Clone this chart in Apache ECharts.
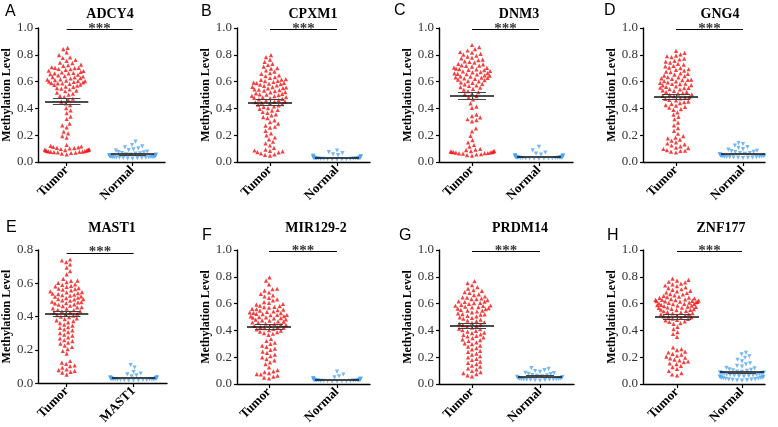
<!DOCTYPE html>
<html><head><meta charset="utf-8">
<script src="https://cdn.jsdelivr.net/npm/echarts@6/dist/echarts.min.js"></script>
<style>html,body{margin:0;padding:0;background:#fff}#c{width:778px;height:427px}</style>
</head><body><div id="c"></div>
<script>
// ---------- DATA ----------
const titles = ['ADCY4','CPXM1','DNM3','GNG4','MAST1','MIR129-2','PRDM14','ZNF177'];
const letters = ['A','B','C','D','E','F','G','H'];
const groupLabels = [['Tumor','Normal'],['Tumor','Normal'],['Tumor','Normal'],['Tumor','Normal'],['Tumor','MAST1'],['Tumor','Normal'],['Tumor','Normal'],['Tumor','Normal']];
const yMaxes = [1.0,1.0,1.0,1.0,0.8,1.0,1.0,1.0];
const sigText = '***';

const adcy4Tumor = [0.852,0.843,0.818,0.797,0.781,0.776,0.762,0.755,0.741,0.738,0.726,0.722,0.718,0.707,0.703,0.702,0.701,0.694,0.692,0.688,0.681,0.679,0.672,0.668,0.664,0.662,0.661,0.655,0.652,0.647,0.641,0.638,0.634,0.631,0.626,0.623,0.617,0.614,0.611,0.608,0.604,0.603,0.599,0.597,0.594,0.589,0.587,0.586,0.583,0.578,0.575,0.569,0.563,0.561,0.552,0.548,0.541,0.533,0.528,0.517,0.511,0.502,0.494,0.486,0.473,0.466,
0.451,0.437,0.424,0.402,0.386,0.365,0.338,0.321,0.286,0.273,0.259,0.227,0.214,0.193,0.181,
0.128,0.121,0.117,0.113,0.109,0.106,0.103,0.101,0.097,0.095,0.093,0.091,0.089,0.088,0.086,0.085,0.082,0.081,0.079,0.078,0.076,0.075,0.073,0.072,0.069,0.067,0.063,0.056];
const adcy4Normal = [0.152,0.127,0.116,0.109,0.101,0.094,0.088,0.085,0.078,0.074,0.072,0.067,0.064,0.063,0.058,0.056,0.055,0.052,0.051,0.049,0.048,0.046,0.045,0.043,0.042,0.041,0.040,0.039,0.038,0.037,0.036,0.035,0.034,0.034,0.033,0.032,0.031,0.030,0.029,0.027,0.025];

const cpxm1Tumor = [0.798,0.783,0.764,0.747,0.733,0.724,0.712,0.701,0.697,0.683,0.674,0.663,0.657,0.646,0.641,0.634,0.627,0.618,0.615,0.613,0.606,0.604,0.597,0.593,0.591,0.588,0.584,0.581,0.577,0.571,0.568,0.561,0.559,0.556,0.552,0.549,0.542,0.539,0.536,0.532,0.529,0.522,0.519,0.512,0.509,0.505,0.502,0.499,0.493,0.491,0.484,0.482,0.478,0.477,0.471,0.468,0.462,0.459,0.453,0.451,0.446,0.442,0.437,0.431,0.428,0.422,0.414,0.411,0.402,0.397,0.388,0.383,0.373,0.367,0.356,0.348,0.335,0.327,0.311,0.297,0.286,0.272,0.263,0.256,
0.233,0.214,0.199,0.183,0.169,0.151,0.139,0.123,0.105,0.092,0.086,0.083,0.079,0.074,0.072,0.064,0.057,0.053,0.047];
const cpxm1Normal = [0.086,0.073,0.066,0.057,0.052,0.047,0.044,0.041,0.039,0.037,0.036,0.035,0.034,0.033,0.032,0.031,0.030,0.030,0.029,0.028,0.028,0.027,0.026,0.026,0.025,0.024,0.024,0.023,0.022,0.021,0.020,0.019,0.018];

const dnm3Tumor = [0.873,0.857,0.843,0.832,0.821,0.816,0.807,0.802,0.793,0.787,0.778,0.773,0.764,0.761,0.751,0.747,0.741,0.733,0.729,0.721,0.719,0.717,0.712,0.705,0.702,0.696,0.693,0.691,0.687,0.685,0.679,0.677,0.671,0.669,0.663,0.661,0.658,0.655,0.653,0.647,0.645,0.639,0.637,0.631,0.629,0.627,0.623,0.621,0.614,0.611,0.604,0.601,0.594,0.591,0.583,0.579,0.571,0.567,0.559,0.554,0.545,0.539,0.529,0.522,0.511,0.504,0.491,0.482,0.467,
0.437,0.413,0.404,0.353,0.342,0.333,0.319,0.312,0.303,0.251,0.229,0.195,0.163,0.147,0.127,0.114,
0.098,0.093,0.088,0.083,0.081,0.078,0.077,0.076,0.074,0.073,0.071,0.070,0.067,0.066,0.064,0.062,0.058,0.056,0.052,0.047];
const dnm3Normal = [0.113,0.087,0.071,0.062,0.055,0.052,0.049,0.047,0.045,0.043,0.042,0.041,0.040,0.039,0.038,0.037,0.036,0.036,0.035,0.034,0.034,0.033,0.033,0.032,0.031,0.031,0.030,0.030,0.029,0.028,0.028,0.027,0.026,0.025,0.024];

const gng4Tumor = [0.829,0.814,0.803,0.794,0.789,0.782,0.771,0.765,0.755,0.749,0.742,0.732,0.727,0.718,0.713,0.704,0.701,0.692,0.688,0.682,0.674,0.671,0.662,0.658,0.652,0.644,0.641,0.634,0.631,0.624,0.621,0.614,0.612,0.611,0.604,0.602,0.594,0.591,0.584,0.582,0.581,0.574,0.572,0.564,0.561,0.554,0.553,0.551,0.544,0.542,0.534,0.531,0.524,0.522,0.514,0.511,0.504,0.502,0.494,0.491,0.484,0.481,0.474,0.471,0.463,0.459,0.451,0.447,0.439,0.434,0.425,0.421,0.411,0.405,0.395,0.389,
0.371,0.353,0.337,0.319,0.294,0.273,0.253,0.233,0.211,
0.193,0.182,0.176,0.167,0.159,0.147,0.138,0.132,0.123,0.117,0.108,0.103,0.097,0.089,0.084,0.082,0.078,0.071];
const gng4Normal = [0.141,0.133,0.122,0.111,0.105,0.096,0.092,0.084,0.081,0.075,0.073,0.067,0.066,0.061,0.059,0.055,0.054,0.051,0.050,0.048,0.046,0.045,0.043,0.042,0.040,0.039,0.038,0.037,0.036,0.035,0.034,0.033,0.032,0.030];

const mast1Tumor = [0.743,0.737,0.727,0.713,0.694,0.673,0.654,0.627,0.616,0.615,0.607,0.602,0.594,0.591,0.585,0.582,0.578,0.571,0.567,0.565,0.561,0.557,0.551,0.547,0.545,0.541,0.537,0.535,0.531,0.528,0.525,0.521,0.519,0.513,0.511,0.505,0.505,0.503,0.497,0.495,0.489,0.487,0.485,0.481,0.479,0.473,0.471,0.465,0.463,0.457,0.455,0.449,0.447,0.441,0.439,0.433,0.431,0.425,0.423,0.417,0.415,0.409,0.406,0.399,0.396,0.389,0.385,0.377,0.373,0.365,0.361,0.351,0.346,0.337,0.332,0.323,0.317,0.307,0.301,0.291,0.285,0.275,0.269,0.259,0.253,0.243,0.237,0.225,0.217,0.204,0.193,0.177,
0.133,0.123,0.116,0.107,0.102,0.093,0.082,0.078,0.074,0.068,0.063,0.051];
const mast1Normal = [0.109,0.094,0.067,0.058,0.053,0.046,0.041,0.036,0.034,0.032,0.031,0.030,0.029,0.028,0.027,0.027,0.026,0.025,0.025,0.024,0.024,0.023,0.022,0.022,0.021,0.020,0.020,0.019,0.018,0.018,0.017,0.016];

const mir1292Tumor = [0.796,0.771,0.743,0.711,0.707,0.697,0.683,0.672,0.661,0.653,0.642,0.631,0.623,0.611,0.606,0.597,0.593,0.585,0.581,0.575,0.573,0.569,0.561,0.558,0.555,0.551,0.548,0.541,0.538,0.535,0.531,0.529,0.523,0.521,0.515,0.515,0.513,0.507,0.505,0.499,0.497,0.495,0.491,0.489,0.483,0.481,0.475,0.473,0.467,0.465,0.459,0.457,0.451,0.449,0.443,0.441,0.435,0.433,0.427,0.425,0.419,0.417,0.411,0.408,0.401,0.398,0.391,0.387,0.379,0.375,0.366,
0.336,0.321,0.308,0.299,0.286,0.277,0.264,0.255,0.241,0.232,0.219,0.208,0.199,0.186,0.177,0.161,0.149,0.124,
0.103,0.094,0.089,0.081,0.073,0.071,0.063,0.055,0.047,0.041];
const mir1292Normal = [0.093,0.071,0.058,0.049,0.044,0.040,0.038,0.036,0.035,0.034,0.033,0.032,0.031,0.030,0.030,0.029,0.028,0.028,0.027,0.026,0.026,0.025,0.024,0.024,0.023,0.022,0.022,0.021,0.020,0.019];

const prdm14Tumor = [0.767,0.753,0.737,0.723,0.712,0.701,0.695,0.685,0.679,0.669,0.663,0.653,0.647,0.645,0.638,0.634,0.633,0.626,0.617,0.614,0.612,0.605,0.603,0.598,0.591,0.586,0.584,0.582,0.577,0.574,0.571,0.566,0.563,0.559,0.553,0.548,0.547,0.541,0.535,0.527,0.521,0.519,0.517,0.509,0.505,0.497,0.493,0.487,0.481,0.473,0.469,0.461,0.457,0.451,0.445,0.439,0.433,0.427,0.421,0.413,0.409,0.401,0.397,0.391,0.383,0.379,0.371,0.367,0.359,0.355,0.347,0.342,0.333,0.328,0.321,0.311,0.303,0.297,0.287,0.279,0.267,0.259,0.247,0.239,0.227,0.219,0.207,0.199,0.187,0.179,0.167,0.157,0.149,0.137,0.129,0.117,0.109,0.097,0.089,0.081,0.073,0.065,0.057];
const prdm14Normal = [0.119,0.113,0.103,0.097,0.091,0.084,0.081,0.075,0.073,0.067,0.064,0.061,0.057,0.054,0.051,0.048,0.046,0.044,0.042,0.040,0.038,0.037,0.036,0.035,0.034,0.033,0.032,0.031,0.030,0.028,0.026];

const znf177Tumor = [0.786,0.777,0.772,0.763,0.758,0.749,0.744,0.735,0.731,0.721,0.716,0.707,0.703,0.695,0.691,0.683,0.679,0.671,0.668,0.661,0.658,0.651,0.648,0.645,0.642,0.639,0.634,0.632,0.628,0.628,0.626,0.623,0.621,0.618,0.617,0.615,0.612,0.611,0.608,0.605,0.602,0.598,0.598,0.596,0.591,0.589,0.585,0.585,0.581,0.577,0.575,0.572,0.569,0.567,0.561,0.559,0.555,0.553,0.551,0.545,0.543,0.537,0.535,0.529,0.527,0.521,0.519,0.513,0.511,0.505,0.503,0.497,0.495,0.488,0.485,0.478,0.475,0.467,0.463,0.454,0.449,
0.427,0.409,0.387,0.373,0.351,
0.273,0.261,0.253,0.241,0.235,0.225,0.219,0.211,0.205,0.196,0.191,0.182,0.177,0.168,0.163,0.154,0.149,0.135,0.126,0.113,0.097,0.081,0.071,0.065];
const znf177Normal = [0.233,0.221,0.207,0.196,0.181,0.169,0.155,0.146,0.135,0.129,0.121,0.116,0.109,0.106,0.101,0.098,0.093,0.091,0.087,0.086,0.083,0.081,0.079,0.077,0.075,0.073,0.071,0.069,0.067,0.065,0.063,0.061,0.059,0.057,0.055,0.053,0.051,0.049,0.047,0.045,0.043,0.041,0.039,0.037,0.035,0.033,0.031,0.029,0.027,0.025];

const tumorSets = [adcy4Tumor,cpxm1Tumor,dnm3Tumor,gng4Tumor,mast1Tumor,mir1292Tumor,prdm14Tumor,znf177Tumor];
const normalSets = [adcy4Normal,cpxm1Normal,dnm3Normal,gng4Normal,mast1Normal,mir1292Normal,prdm14Normal,znf177Normal];

// ---------- LAYOUT (pixels) ----------
// [yAxisX, tumorTickX, normalTickX, axisEndX, plotTop, titleCX, titleCY, letterX, letterCY]
const layout = [
  [36, 65, 132, 165, 28, 110, 14, 5, 12],
  [237, 270, 337, 370, 28, 313, 14, 201, 12],
  [439, 472, 539, 573, 28, 519, 14, 394, 11],
  [643, 676, 743, 765, 28, 720, 14, 604, 11],
  [36, 65, 133, 167, 250, 112, 228, 6, 228],
  [237, 269, 337, 370, 250, 316, 228, 202, 236],
  [439, 472, 540, 574, 250, 520, 228, 399, 236],
  [643, 677, 742, 765, 250, 721, 228, 607, 236]
];
const plotH = 134;
const FONT = '"Liberation Serif","Times New Roman",serif';
const RED = '#f41010', BLUE = '#52a6f4';
const DOT = 4.6;      // swarm spacing (px)
const SPREAD = 24;    // soft max half-width of a swarm (px)

function swarm(vals, pxY, pxX, d, L) {
  const idx = vals.map((v, i) => i).sort((a, b) => vals[a] - vals[b]);
  const placed = [], off = new Array(vals.length);
  idx.forEach((i, n) => {
    const y = vals[i] * pxY;
    const near = placed.filter(p => Math.abs(p.y - y) < d);
    let x = 0;
    for (let k = 0; k < 800; k++) {
      let c = k === 0 ? [0] : [k * 0.5, -k * 0.5];
      if (n % 2) c = c.reverse();
      let f = null;
      for (const cx of c) {
        if (near.every(p => (p.x - cx) * (p.x - cx) + (p.y - y) * (p.y - y) >= d * d)) { f = cx; break; }
      }
      if (f !== null) { x = f; break; }
    }
    placed.push({x, y});
    off[i] = L * Math.tanh(x / L) / pxX;
  });
  return off;
}
function stats(v) {
  const n = v.length, m = v.reduce((a, b) => a + b, 0) / n;
  const sd = Math.sqrt(v.reduce((a, b) => a + (b - m) * (b - m), 0) / (n - 1));
  return {m, sem: sd / Math.sqrt(n)};
}

const grids = [], xAxes = [], yAxes = [], series = [], graphics = [];
layout.forEach((L, i) => {
  const [ax, tx, nx, ex, top, tcx, tcy, lx, lcy] = L;
  const s = nx - tx;
  const xmin = 1 - (tx - ax) / s, xmax = 2 + (ex - nx) / s;
  const ymax = yMaxes[i];
  grids.push({left: ax, top: top, width: ex - ax, height: plotH});
  xAxes.push({
    type: 'value', gridIndex: i, min: xmin, max: xmax,
    axisLine: {show: true, onZero: false, lineStyle: {color: '#000', width: 1.4}},
    axisTick: {show: true, length: 4, lineStyle: {color: '#000', width: 1.2}, customValues: [1, 2]},
    axisLabel: {show: true, customValues: [1, 2], rotate: 45, margin: 6,
      formatter: v => groupLabels[i][Math.round(v) - 1],
      fontFamily: FONT, fontWeight: 'bold', fontSize: 13, color: '#000'},
    splitLine: {show: false}
  });
  yAxes.push({
    type: 'value', gridIndex: i, min: 0, max: ymax, interval: 0.2,
    name: 'Methylation Level', nameLocation: 'middle', nameGap: 21, nameRotate: 90,
    nameTextStyle: {fontFamily: FONT, fontWeight: 'bold', fontSize: 12, color: '#000'},
    axisLine: {show: true, lineStyle: {color: '#000', width: 1.4}},
    axisTick: {show: true, length: 3, lineStyle: {color: '#000', width: 1.2}},
    axisLabel: {fontFamily: FONT, fontSize: 13, color: '#333', margin: 5, formatter: v => v.toFixed(1)},
    splitLine: {show: false}
  });
  const pxY = plotH / ymax;
  [[tumorSets[i], 1, RED, 0], [normalSets[i], 2, BLUE, 180]].forEach(([vals, c, col, rot]) => {
    const off = swarm(vals, pxY, s, DOT, SPREAD);
    const st = stats(vals);
    const hw = 22 / s, sw = 14 / s;
    series.push({
      type: 'scatter', xAxisIndex: i, yAxisIndex: i, symbol: 'triangle', symbolRotate: rot,
      symbolSize: 4.2, itemStyle: {color: col}, silent: true,
      data: vals.map((v, k) => [c + off[k], v]),
      markLine: {
        silent: true, symbol: 'none', animation: false, label: {show: false},
        lineStyle: {type: 'solid', color: '#111', width: 1.5},
        data: [
          [{coord: [c - hw, st.m], lineStyle: {type: 'solid', color: '#111', width: 1.6}}, {coord: [c + hw, st.m]}],
          [{coord: [c - sw, st.m + st.sem], lineStyle: {type: 'solid', color: '#444', width: 1}}, {coord: [c + sw, st.m + st.sem]}],
          [{coord: [c - sw, st.m - st.sem], lineStyle: {type: 'solid', color: '#444', width: 1}}, {coord: [c + sw, st.m - st.sem]}],
          [{coord: [c, st.m - st.sem], lineStyle: {type: 'solid', color: '#444', width: 1}}, {coord: [c, st.m + st.sem]}]
        ]
      }
    });
  });
  const sigY = ymax * (i === 4 ? 0.978 : 0.988);
  series.push({
    type: 'scatter', xAxisIndex: i, yAxisIndex: i, symbolSize: 1, itemStyle: {color: 'rgba(0,0,0,0)'},
    silent: true, data: [[1.5, sigY]],
    label: {show: true, position: 'inside', offset: [0, -0.5], formatter: sigText,
      fontFamily: FONT, fontWeight: 'bold', fontSize: 15, color: '#000'},
    markLine: {silent: true, symbol: 'none', animation: false, label: {show: false},
      lineStyle: {type: 'solid', color: '#000', width: 1.2},
      data: [[{coord: [1, sigY]}, {coord: [2, sigY]}]]}
  });
  graphics.push({type: 'text', x: tcx, y: tcy, style: {text: titles[i], font: 'bold 14px ' + FONT, fill: '#000', textAlign: 'center', textVerticalAlign: 'middle'}});
  graphics.push({type: 'text', x: lx, y: lcy, style: {text: letters[i], font: '16px "Liberation Sans",Arial,sans-serif', fill: '#000', textAlign: 'left', textVerticalAlign: 'middle'}});
});

const chart = echarts.init(document.getElementById('c'), null, {renderer: 'canvas'});
chart.setOption({
  animation: false, backgroundColor: '#fff',
  grid: grids, xAxis: xAxes, yAxis: yAxes, series: series, graphic: graphics
});
</script></body></html>
